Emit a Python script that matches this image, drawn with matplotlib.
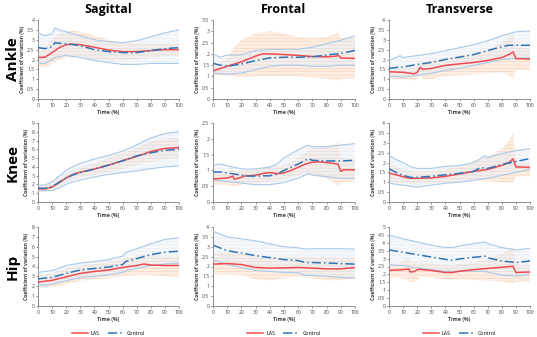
import numpy as np
import matplotlib
matplotlib.use("Agg")
import matplotlib.pyplot as plt
from matplotlib.lines import Line2D

plt.rcParams['font.family'] = ['Open Sans', 'DejaVu Sans']
plt.rcParams['hatch.linewidth'] = 0.35

col_titles = ["Sagittal", "Frontal", "Transverse"]
row_titles = ["Ankle", "Knee", "Hip"]
y_max = [[4, 3.5, 4], [9, 2.5, 4], [8, 4, 5]]
y_step = [[0.5, 0.5, 0.5], [1, 0.5, 0.5], [1, 0.5, 0.5]]

# ---------- Ankle Sagittal ----------
as_x_las = [0, 5, 10, 15, 20, 25, 30, 40, 50, 60, 70, 80, 90, 100]
as_las = [2.1, 2.12, 2.35, 2.6, 2.75, 2.78, 2.75, 2.62, 2.48, 2.4, 2.4, 2.45, 2.5, 2.5]
as_las_hi = [2.6, 2.6, 3.0, 3.3, 3.4, 3.45, 3.4, 3.2, 3.0, 2.85, 2.8, 2.8, 2.8, 2.8]
as_las_lo = [1.6, 1.6, 1.8, 2.0, 2.1, 2.12, 2.1, 2.0, 1.95, 1.95, 2.0, 2.1, 2.15, 2.2]
as_x_con = [0, 5, 10, 12, 15, 20, 30, 40, 50, 60, 70, 80, 90, 100]
as_con = [2.6, 2.55, 2.65, 2.85, 2.82, 2.8, 2.7, 2.5, 2.4, 2.35, 2.35, 2.45, 2.55, 2.6]
as_con_hi = [3.35, 3.2, 3.3, 3.6, 3.5, 3.4, 3.2, 3.0, 2.9, 2.85, 2.95, 3.15, 3.35, 3.5]
as_con_lo = [1.8, 1.8, 2.0, 2.1, 2.15, 2.2, 2.1, 1.95, 1.85, 1.75, 1.75, 1.8, 1.8, 1.8]

# ---------- Ankle Frontal ----------
af_x_las = [0, 10, 15, 20, 30, 35, 40, 50, 60, 70, 80, 87, 88, 90, 100]
af_las = [1.25, 1.45, 1.55, 1.65, 1.9, 2.0, 2.0, 1.97, 1.93, 1.88, 1.87, 1.9, 1.95, 1.82, 1.8]
af_las_hi = [1.4, 1.8, 2.3, 2.6, 2.9, 2.95, 3.0, 2.9, 2.75, 2.7, 2.75, 2.9, 3.0, 2.7, 2.7]
af_las_lo = [1.05, 1.05, 1.0, 0.95, 1.0, 1.0, 1.0, 1.0, 1.0, 0.95, 0.9, 0.85, 0.8, 0.9, 0.9]
af_x_con = [0, 5, 10, 15, 20, 30, 40, 50, 60, 70, 80, 90, 100]
af_con = [1.58, 1.5, 1.45, 1.5, 1.55, 1.7, 1.82, 1.85, 1.85, 1.87, 1.95, 2.02, 2.15]
af_con_hi = [2.0, 1.85, 1.95, 1.95, 1.95, 2.15, 2.2, 2.2, 2.2, 2.3, 2.45, 2.6, 2.8]
af_con_lo = [1.15, 1.12, 1.1, 1.12, 1.15, 1.3, 1.45, 1.5, 1.5, 1.45, 1.45, 1.5, 1.5]

# ---------- Ankle Transverse ----------
at_x_las = [0, 10, 18, 20, 22, 24, 30, 40, 50, 60, 70, 80, 85, 88, 90, 100]
at_las = [1.38, 1.35, 1.28, 1.35, 1.6, 1.5, 1.55, 1.7, 1.78, 1.85, 1.95, 2.1, 2.25, 2.38, 2.05, 2.02]
at_las_hi = [1.6, 1.6, 1.6, 1.65, 1.9, 1.85, 1.95, 2.1, 2.2, 2.3, 2.5, 2.85, 3.1, 3.35, 2.6, 2.6]
at_las_lo = [1.05, 1.0, 0.95, 1.0, 1.2, 1.0, 1.0, 1.15, 1.2, 1.25, 1.3, 1.35, 1.2, 1.0, 1.45, 1.45]
at_x_con = [0, 8, 10, 20, 30, 40, 50, 60, 70, 80, 85, 90, 100]
at_con = [1.55, 1.62, 1.62, 1.75, 1.85, 2.0, 2.12, 2.25, 2.45, 2.65, 2.72, 2.72, 2.72]
at_con_hi = [1.95, 2.2, 2.1, 2.2, 2.3, 2.45, 2.6, 2.75, 2.95, 3.2, 3.3, 3.4, 3.45]
at_con_lo = [1.15, 1.12, 1.1, 1.2, 1.3, 1.45, 1.55, 1.7, 1.85, 2.0, 2.02, 2.05, 2.1]

# ---------- Knee Sagittal ----------
ks_x_las = [0, 5, 10, 15, 20, 25, 30, 40, 50, 60, 70, 80, 90, 100]
ks_las = [1.5, 1.5, 1.7, 2.2, 2.75, 3.15, 3.4, 3.75, 4.2, 4.7, 5.2, 5.75, 6.1, 6.2]
ks_las_hi = [1.8, 1.85, 2.1, 2.7, 3.3, 3.65, 3.9, 4.4, 5.0, 5.6, 6.2, 6.9, 7.2, 7.3]
ks_las_lo = [1.2, 1.2, 1.3, 1.7, 2.2, 2.55, 2.8, 3.1, 3.4, 3.8, 4.2, 4.6, 4.9, 5.0]
ks_x_con = [0, 5, 10, 15, 20, 25, 30, 40, 50, 60, 70, 80, 90, 100]
ks_con = [1.6, 1.55, 1.75, 2.25, 2.75, 3.1, 3.35, 3.75, 4.2, 4.7, 5.25, 5.6, 5.9, 6.0]
ks_con_hi = [1.9, 1.95, 2.3, 2.95, 3.6, 4.05, 4.4, 4.9, 5.3, 5.8, 6.5, 7.3, 7.8, 8.0]
ks_con_lo = [1.3, 1.3, 1.3, 1.6, 2.0, 2.3, 2.5, 2.85, 3.15, 3.35, 3.55, 3.8, 4.0, 4.1]

# ---------- Knee Frontal ----------
kf_x_las = [0, 10, 13, 14, 15, 20, 22, 30, 35, 40, 45, 50, 55, 60, 65, 70, 75, 80, 85, 88, 90, 92, 100]
kf_las = [0.73, 0.76, 0.8, 0.82, 0.72, 0.78, 0.82, 0.85, 0.9, 0.93, 0.9, 0.92, 1.0, 1.1, 1.2, 1.26, 1.27, 1.25, 1.22, 1.2, 0.97, 1.02, 1.02]
kf_las_hi = [0.9, 0.95, 1.15, 1.1, 0.9, 1.0, 1.02, 1.05, 1.1, 1.15, 1.12, 1.15, 1.25, 1.4, 1.55, 1.7, 1.72, 1.75, 1.8, 1.9, 1.4, 1.38, 1.35]
kf_las_lo = [0.55, 0.55, 0.52, 0.5, 0.48, 0.55, 0.58, 0.6, 0.62, 0.65, 0.66, 0.7, 0.78, 0.85, 0.88, 0.85, 0.8, 0.75, 0.62, 0.5, 0.6, 0.62, 0.65]
kf_x_con = [0, 5, 10, 20, 25, 30, 40, 45, 50, 60, 67, 70, 80, 90, 100]
kf_con = [0.95, 0.95, 0.92, 0.85, 0.82, 0.82, 0.83, 0.88, 1.0, 1.2, 1.37, 1.32, 1.3, 1.3, 1.32]
kf_con_hi = [1.18, 1.2, 1.15, 1.05, 1.04, 1.05, 1.1, 1.2, 1.4, 1.65, 1.8, 1.75, 1.75, 1.8, 1.85]
kf_con_lo = [0.7, 0.68, 0.65, 0.6, 0.57, 0.55, 0.55, 0.58, 0.62, 0.75, 0.9, 0.85, 0.8, 0.75, 0.75]

# ---------- Knee Transverse ----------
kt_x_las = [0, 5, 10, 15, 20, 30, 40, 50, 60, 70, 80, 85, 88, 90, 100]
kt_las = [1.46, 1.38, 1.28, 1.2, 1.2, 1.22, 1.3, 1.42, 1.55, 1.65, 1.85, 2.0, 2.18, 1.78, 1.75]
kt_las_hi = [1.9, 1.78, 1.65, 1.58, 1.55, 1.55, 1.65, 1.8, 2.0, 2.3, 2.7, 3.1, 3.5, 2.0, 2.0]
kt_las_lo = [1.0, 0.98, 0.95, 0.92, 0.9, 0.95, 1.0, 1.05, 1.1, 1.05, 1.0, 0.98, 0.95, 1.3, 1.3]
kt_x_con = [0, 5, 10, 15, 20, 30, 40, 50, 60, 65, 68, 70, 80, 90, 100]
kt_con = [1.68, 1.5, 1.35, 1.25, 1.25, 1.3, 1.38, 1.45, 1.55, 1.75, 1.72, 1.7, 1.9, 2.05, 2.2]
kt_con_hi = [2.35, 2.15, 2.0, 1.8, 1.7, 1.7, 1.8, 1.85, 2.0, 2.2, 2.35, 2.25, 2.45, 2.6, 2.7]
kt_con_lo = [0.95, 0.9, 0.85, 0.8, 0.75, 0.85, 0.95, 1.0, 1.1, 1.15, 1.18, 1.2, 1.35, 1.5, 1.65]

# ---------- Hip Sagittal ----------
hs_x_las = [0, 10, 20, 30, 40, 50, 60, 70, 75, 80, 90, 100]
hs_las = [2.42, 2.6, 2.95, 3.3, 3.5, 3.65, 3.9, 4.1, 4.25, 4.15, 4.1, 4.1]
hs_las_hi = [3.1, 3.3, 3.8, 4.1, 4.3, 4.5, 4.75, 5.05, 5.2, 5.1, 5.0, 5.0]
hs_las_lo = [1.8, 1.9, 2.2, 2.55, 2.7, 2.8, 3.0, 3.1, 3.15, 3.1, 3.0, 2.9]
hs_x_con = [0, 10, 20, 30, 40, 50, 60, 62, 70, 80, 90, 100]
hs_con = [2.75, 2.9, 3.3, 3.65, 3.8, 3.95, 4.2, 4.5, 4.8, 5.2, 5.45, 5.55]
hs_con_hi = [3.4, 3.6, 4.1, 4.35, 4.5, 4.7, 5.05, 5.4, 5.8, 6.3, 6.75, 6.9]
hs_con_lo = [2.1, 2.2, 2.55, 2.9, 3.0, 3.15, 3.4, 3.55, 3.8, 4.1, 4.25, 4.35]

# ---------- Hip Frontal ----------
hf_x_las = [0, 10, 20, 30, 40, 50, 60, 70, 80, 90, 100]
hf_las = [2.12, 2.15, 2.1, 1.95, 1.92, 1.93, 1.95, 1.92, 1.88, 1.88, 1.95]
hf_las_hi = [2.65, 2.7, 2.65, 2.5, 2.45, 2.45, 2.5, 2.5, 2.45, 2.45, 2.5]
hf_las_lo = [1.6, 1.6, 1.55, 1.35, 1.3, 1.4, 1.5, 1.4, 1.3, 1.3, 1.4]
hf_x_con = [0, 10, 20, 30, 40, 50, 60, 65, 70, 80, 90, 100]
hf_con = [3.08, 2.8, 2.68, 2.55, 2.45, 2.35, 2.3, 2.2, 2.2, 2.18, 2.15, 2.12]
hf_con_hi = [3.78, 3.5, 3.4, 3.3, 3.15, 3.0, 2.95, 2.88, 2.9, 2.9, 2.9, 2.88]
hf_con_lo = [2.35, 2.1, 1.95, 1.8, 1.75, 1.7, 1.68, 1.55, 1.55, 1.5, 1.45, 1.42]

# ---------- Hip Transverse ----------
ht_x_las = [0, 10, 14, 15, 18, 20, 22, 30, 40, 45, 50, 60, 70, 80, 88, 90, 100]
ht_las = [2.25, 2.3, 2.35, 2.15, 2.18, 2.3, 2.32, 2.25, 2.12, 2.12, 2.2, 2.3, 2.38, 2.45, 2.52, 2.12, 2.15]
ht_las_hi = [2.65, 2.8, 3.1, 2.8, 2.78, 2.75, 2.75, 2.7, 2.6, 2.6, 2.65, 2.75, 3.0, 3.3, 3.75, 2.6, 2.6]
ht_las_lo = [1.85, 1.75, 1.6, 1.5, 1.55, 1.6, 1.85, 1.8, 1.7, 1.7, 1.7, 1.65, 1.6, 1.55, 1.4, 1.55, 1.55]
ht_x_con = [0, 10, 20, 30, 40, 45, 50, 60, 68, 70, 80, 90, 100]
ht_con = [3.55, 3.4, 3.25, 3.1, 2.95, 2.9, 2.98, 3.08, 3.15, 3.05, 2.85, 2.75, 2.85]
ht_con_hi = [4.5, 4.25, 4.05, 3.85, 3.7, 3.7, 3.8, 3.95, 4.05, 3.95, 3.7, 3.55, 3.65]
ht_con_lo = [2.6, 2.55, 2.4, 2.3, 2.2, 2.2, 2.2, 2.2, 2.2, 2.15, 1.95, 1.9, 2.0]

panels = [
    [(as_x_las, as_las, as_las_hi, as_las_lo, as_x_con, as_con, as_con_hi, as_con_lo),
     (af_x_las, af_las, af_las_hi, af_las_lo, af_x_con, af_con, af_con_hi, af_con_lo),
     (at_x_las, at_las, at_las_hi, at_las_lo, at_x_con, at_con, at_con_hi, at_con_lo)],
    [(ks_x_las, ks_las, ks_las_hi, ks_las_lo, ks_x_con, ks_con, ks_con_hi, ks_con_lo),
     (kf_x_las, kf_las, kf_las_hi, kf_las_lo, kf_x_con, kf_con, kf_con_hi, kf_con_lo),
     (kt_x_las, kt_las, kt_las_hi, kt_las_lo, kt_x_con, kt_con, kt_con_hi, kt_con_lo)],
    [(hs_x_las, hs_las, hs_las_hi, hs_las_lo, hs_x_con, hs_con, hs_con_hi, hs_con_lo),
     (hf_x_las, hf_las, hf_las_hi, hf_las_lo, hf_x_con, hf_con, hf_con_hi, hf_con_lo),
     (ht_x_las, ht_las, ht_las_hi, ht_las_lo, ht_x_con, ht_con, ht_con_hi, ht_con_lo)],
]

RED = '#ee4a52'
BLUE = '#2e75b6'
ORANGE_FILL = '#fdeee4'
ORANGE_LINE = '#f6c9ab'
BLUE_LINE = '#a9c9e8'
BLUE_HATCH = '#c9dcf0'

fig = plt.figure(figsize=(5.37, 3.37), dpi=100)

col_left = [38 / 537, 213 / 537, 389 / 537]
col_w = [141 / 537, 142 / 537, 141 / 537]
row_top = [20, 123, 227]
row_h = 79

for r in range(3):
    for c in range(3):
        bottom = 1 - (row_top[r] + row_h) / 337
        ax = fig.add_axes([col_left[c], bottom, col_w[c], row_h / 337])
        xl, l, lh, ll, xc, cm, ch, cl = panels[r][c]
        ax.fill_between(xl, ll, lh, facecolor=ORANGE_FILL, edgecolor=ORANGE_LINE,
                        hatch='-----', linewidth=0, zorder=1)
        ax.fill_between(xc, cl, ch, facecolor='#e9eef5', edgecolor=BLUE_HATCH,
                        hatch='-----', linewidth=0, alpha=0.45, zorder=2)
        ax.plot(xc, ch, color=BLUE_LINE, lw=0.8, zorder=3)
        ax.plot(xc, cl, color=BLUE_LINE, lw=0.8, zorder=3)
        ax.plot(xl, l, color=RED, lw=1.1, zorder=5)
        ax.plot(xc, cm, color=BLUE, lw=1.1, ls=(0, (6, 2, 1, 2)), zorder=6)
        ax.set_xlim(0, 100)
        ax.set_ylim(0, y_max[r][c])
        ax.set_xticks(np.arange(0, 101, 10))
        yt = np.arange(0, y_max[r][c] + 1e-9, y_step[r][c])
        ax.set_yticks(yt)
        ax.set_yticklabels([('%g' % v) for v in yt])
        for s in ['top', 'right']:
            ax.spines[s].set_visible(False)
        for s in ['left', 'bottom']:
            ax.spines[s].set_color('#808080')
            ax.spines[s].set_linewidth(0.6)
        ax.tick_params(axis='both', labelsize=3.6, length=1.2, width=0.4,
                       pad=1.5, colors='#404040')
        ax.set_xlabel('Time (%)', fontsize=3.8, fontweight='bold', labelpad=1.5,
                      color='#404040')
        ax.set_ylabel('Coefficient of variation (%)', fontsize=3.6, fontweight='bold',
                      labelpad=1.5, color='#404040')
        if r == 0:
            ax.set_title(col_titles[c], fontsize=9, fontweight='bold', pad=5)
        if r == 2:
            handles = [Line2D([], [], color=RED, lw=1.1),
                       Line2D([], [], color=BLUE, lw=1.1, ls=(0, (6, 2, 1, 2)))]
            ax.legend(handles, ['LAS', 'Control'], loc='upper center',
                      bbox_to_anchor=(0.5, -0.26), ncol=2, frameon=False,
                      fontsize=3.8, handlelength=3, columnspacing=1.5,
                      handletextpad=0.6)

for r in range(3):
    yc = 1 - (row_top[r] + row_h / 2) / 337
    fig.text(13 / 537, yc, row_titles[r], rotation=90, fontsize=11,
             fontweight='bold', ha='center', va='center')

fig.savefig('out.png', dpi=100)
